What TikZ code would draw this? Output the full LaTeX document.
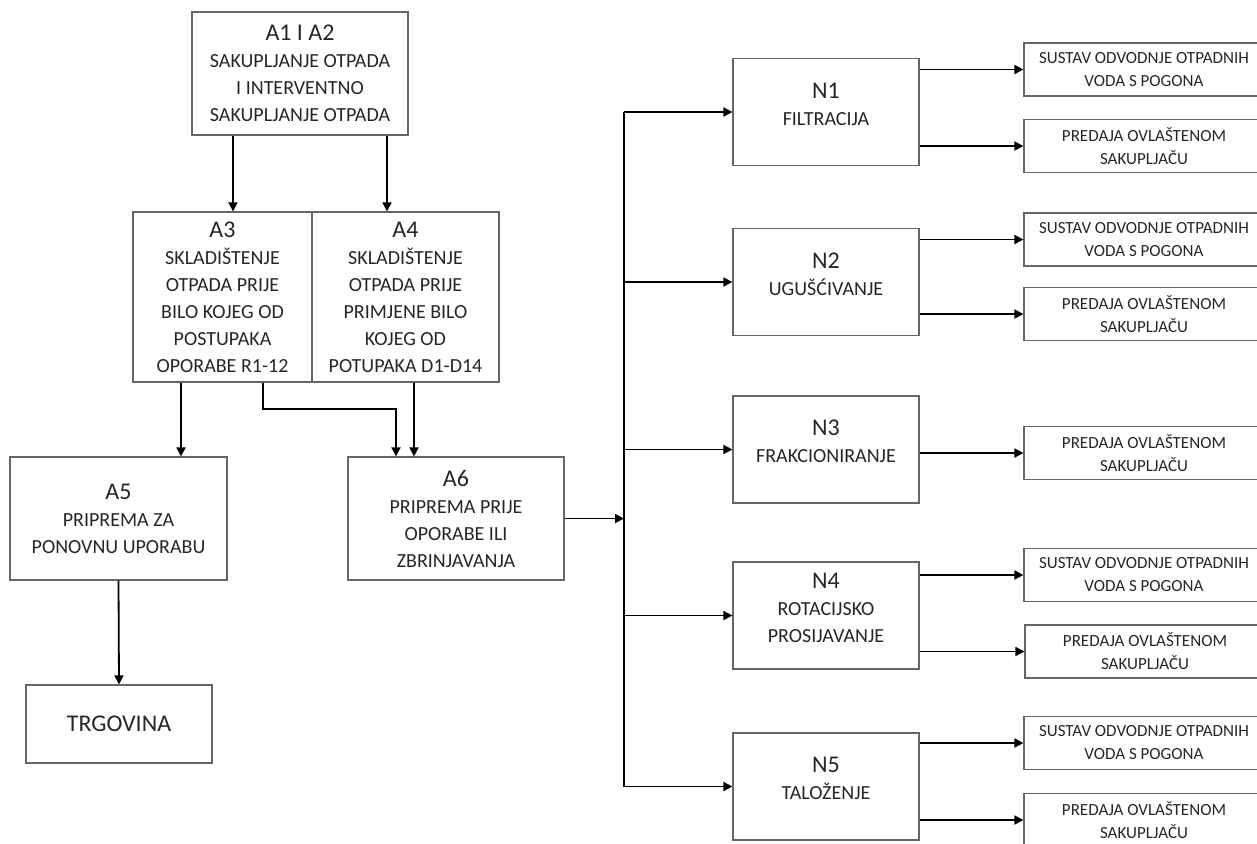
\documentclass[tikz,border=0pt]{standalone}
\usepackage{fontspec}
\setmainfont{Carlito}
\usetikzlibrary{arrows.meta}
\newcommand{\boxhead}[1]{{\fontsize{12}{15}\selectfont #1}}

\begin{document}
\begin{tikzpicture}[x=0.5pt, y=-0.5pt,
        box/.style={draw=black!60, line width=0.6pt, align=center, inner sep=2pt,
            text=black!85, font=\fontsize{10}{13.5}\selectfont},
        nbox/.style={box, minimum width=93pt, minimum height=53.5pt, text depth=8pt},
        outbox/.style={box, minimum width=120pt, minimum height=26.5pt,
            font=\fontsize{8.5}{11.5}\selectfont},
        arr/.style={-{Triangle[length=4.5pt,width=4.5pt]}, line width=0.9pt},
        busline/.style={line width=0.9pt}]
    \clip (0,0) rectangle (1257,843);

    \node[box, minimum width=108pt, minimum height=61.5pt] (a12) at (300,73.5)
        {\boxhead{A1 I A2}\\SAKUPLJANJE OTPADA\\I INTERVENTNO\\SAKUPLJANJE OTPADA};
    \node[box, minimum width=89.5pt, minimum height=85pt] (a3) at (222.5,297)
        {\boxhead{A3}\\SKLADIŠTENJE\\OTPADA PRIJE\\BILO KOJEG OD\\POSTUPAKA\\OPORABE R1-12};
    \node[box, minimum width=93.5pt, minimum height=85pt] (a4) at (405.5,297)
        {\boxhead{A4}\\SKLADIŠTENJE\\OTPADA PRIJE\\PRIMJENE BILO\\KOJEG OD\\POTUPAKA D1-D14};
    \node[box, minimum width=108.5pt, minimum height=61.5pt] (a5) at (118.5,518.5)
        {\boxhead{A5}\\PRIPREMA ZA\\PONOVNU UPORABU};
    \node[box, minimum width=93pt, minimum height=39pt, font=\fontsize{12}{15}\selectfont]
        (trg) at (119,724) {TRGOVINA};
    \node[box, minimum width=108pt, minimum height=61.5pt] (a6) at (456,518.5)
        {\boxhead{A6}\\PRIPREMA PRIJE\\OPORABE ILI\\ZBRINJAVANJA};

    \node[nbox] (n1) at (826,112) {\boxhead{N1}\\FILTRACIJA};
    \node[nbox] (n2) at (826,282) {\boxhead{N2}\\UGUŠĆIVANJE};
    \node[nbox] (n3) at (826,449.5) {\boxhead{N3}\\FRAKCIONIRANJE};
    \node[nbox] (n4) at (826,615.5) {\boxhead{N4}\\ROTACIJSKO\\PROSIJAVANJE};
    \node[nbox] (n5) at (826,786.5) {\boxhead{N5}\\TALOŽENJE};

    \node[outbox] (s1) at (1144,69.5) {SUSTAV ODVODNJE OTPADNIH\\VODA S POGONA};
    \node[outbox] (p1) at (1144,146) {PREDAJA OVLAŠTENOM\\SAKUPLJAČU};
    \node[outbox] (s2) at (1144,239.5) {SUSTAV ODVODNJE OTPADNIH\\VODA S POGONA};
    \node[outbox] (p2) at (1144,314) {PREDAJA OVLAŠTENOM\\SAKUPLJAČU};
    \node[outbox] (p3) at (1144,453) {PREDAJA OVLAŠTENOM\\SAKUPLJAČU};
    \node[outbox] (s4) at (1144,575) {SUSTAV ODVODNJE OTPADNIH\\VODA S POGONA};
    \node[outbox] (p4) at (1145,651.5) {PREDAJA OVLAŠTENOM\\SAKUPLJAČU};
    \node[outbox] (s5) at (1144,743) {SUSTAV ODVODNJE OTPADNIH\\VODA S POGONA};
    \node[outbox] (p5) at (1144,820) {PREDAJA OVLAŠTENOM\\SAKUPLJAČU};

    \draw[arr] (233,0 |- a12.south) -- (233,0 |- a3.north);
    \draw[arr] (387,0 |- a12.south) -- (387,0 |- a4.north);
    \draw[arr] (181,0 |- a3.south) -- (181,0 |- a5.north);
    \draw[arr] (263,0 |- a3.south) -- (263,409) -| (396,0 |- a6.north);
    \draw[arr] (414,0 |- a4.south) -- (414,0 |- a6.north);
    \draw[arr] (a5.south) -- (trg.north);

    \coordinate (bus) at (624,518.5);
    \draw[arr] (a6.east) -- (bus);
    \draw[busline] (bus |- n1) -- (bus |- n5);
    \foreach \i in {1,...,5}
        \draw[arr] (bus |- n\i) -- (n\i.west);
    \foreach \i in {1,2,4,5}
        \draw[arr] (n\i.east |- s\i) -- (s\i.west);
    \foreach \i in {1,...,5}
        \draw[arr] (n\i.east |- p\i) -- (p\i.west);
\end{tikzpicture}
\end{document}
